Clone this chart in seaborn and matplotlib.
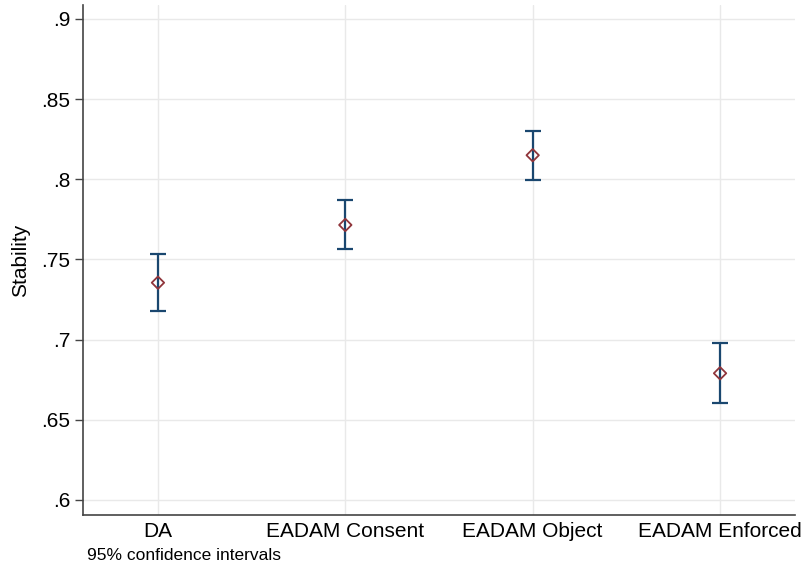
import matplotlib
matplotlib.use("Agg")
import matplotlib.pyplot as plt
import seaborn as sns
import pandas as pd

categories = ["DA", "EADAM Consent", "EADAM Object", "EADAM Enforced"]
means = [0.7355, 0.7715, 0.8150, 0.6790]
ci_low = [0.7180, 0.7565, 0.7995, 0.6605]
ci_high = [0.7533, 0.7870, 0.8302, 0.6980]
y_ticks = [0.6, 0.65, 0.7, 0.75, 0.8, 0.85, 0.9]
y_tick_labels = [".6", ".65", ".7", ".75", ".8", ".85", ".9"]

df = pd.DataFrame({"cat": categories, "mean": means, "lo": ci_low, "hi": ci_high})
df["pos"] = range(len(df))

sns.set_style("white")
plt.rcParams["font.family"] = ["Liberation Sans", "DejaVu Sans"]
plt.rcParams["text.color"] = "black"
plt.rcParams["axes.labelcolor"] = "black"
plt.rcParams["xtick.color"] = "black"
plt.rcParams["ytick.color"] = "black"

fig = plt.figure(figsize=(8.02, 5.66), dpi=100)
ax = fig.add_axes([83 / 802, 1 - 515 / 566, (795 - 83) / 802, (515 - 5) / 566])

ax.set_xlim(-0.4, 3.4)
ax.set_ylim(0.5906, 0.9087)
ax.set_yticks(y_ticks)
ax.set_yticklabels(y_tick_labels)
ax.set_xticks(df["pos"])
ax.set_xticklabels(categories)
ax.grid(True, color="#e9e9e9", linewidth=1.0)
ax.set_axisbelow(True)

navy = "#1a476f"
maroon = "#90353b"
ax.errorbar(df["pos"], df["mean"],
            yerr=[df["mean"] - df["lo"], df["hi"] - df["mean"]],
            fmt="none", ecolor=navy, elinewidth=1.6, capsize=5.5, capthick=1.6, zorder=2)
sns.scatterplot(data=df, x="pos", y="mean", marker="D", s=40, facecolor="none",
                edgecolor=maroon, linewidth=1.3, ax=ax, zorder=3)

for s in ["top", "right"]:
    ax.spines[s].set_visible(False)
for s in ["left", "bottom"]:
    ax.spines[s].set_color("#444444")
    ax.spines[s].set_linewidth(1.2)

ax.tick_params(axis="y", length=6, width=1.0, color="#444444", labelcolor="black",
               labelsize=15, pad=3, left=True)
ax.tick_params(axis="x", length=0, labelsize=15, labelcolor="black", pad=5)
ax.set_xlabel("")
ax.set_ylabel("Stability", fontsize=15, labelpad=8, color="black")

fig.text(87 / 802, 1 - 560 / 566, "95% confidence intervals", fontsize=12.5,
         ha="left", va="baseline", color="black")

fig.savefig("out.png", dpi=100)
